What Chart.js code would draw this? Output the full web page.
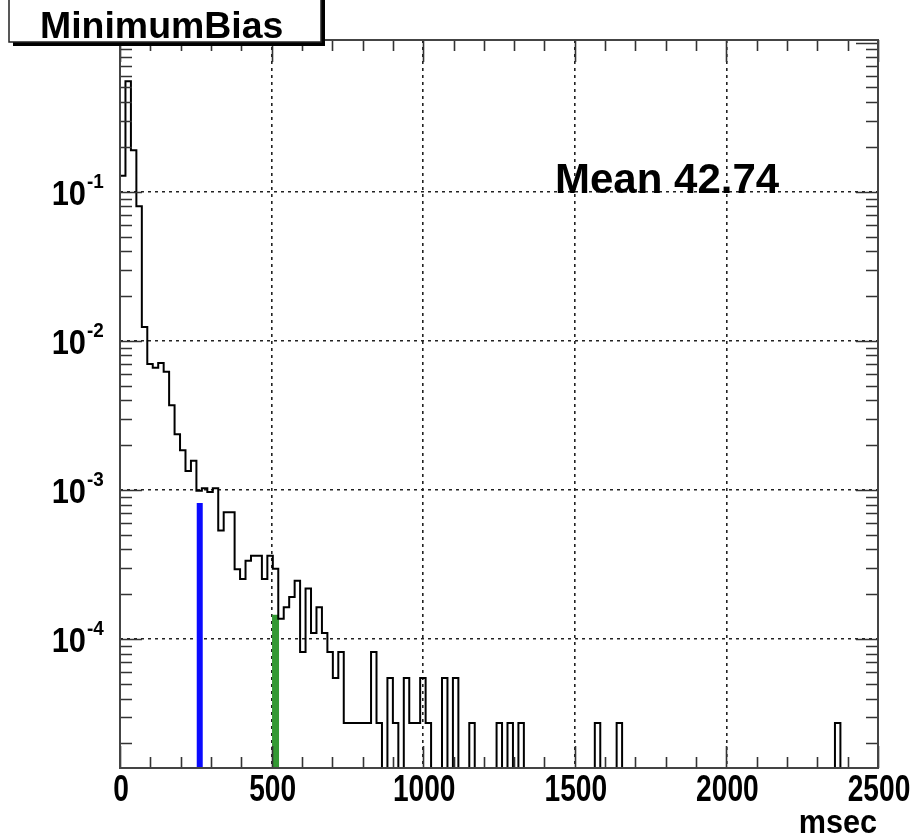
<!DOCTYPE html>
<html>
<head>
<meta charset="utf-8">
<script src="https://cdn.jsdelivr.net/npm/chart.js@4.4.1/dist/chart.umd.min.js"></script>
<style>
    html, body { margin: 0; padding: 0; background: #fff; }
    #wrap { position: relative; width: 917px; height: 837px; }
</style>
</head>
<body>
<div id="wrap"><canvas id="timeChart"></canvas></div>
<script>
// event time histogram, 18 ms bins from 0, normalised to unit area
var binWidth = 18;
var binValues = [
    0.128, 0.55, 0.19, 0.08, 0.0124, 0.0070, 0.0066, 0.0071, 0.0062, 0.0037,
    0.00237, 0.00185, 0.00134, 0.00157, 0.00099, 0.00103, 0.00097, 0.00103, 0.000536, 0.00071,
    0.00071, 0.000295, 0.000253, 0.000336, 0.000363, 0.000363, 0.000253, 0.000363, 0.000297, 0.000137,
    0.000164, 0.000192, 0.000247, 0.000082, 0.000219, 0.00011, 0.000164, 0.00011, 0.000082, 0.000055,
    0.000082, 0.0000274, 0.0000274, 0.0000274, 0.0000274, 0.0000274, 0.000082, 0.0000274, 0, 0.000055,
    0.0000274, 0, 0.000055, 0.0000274, 0.0000274, 0.000055, 0.0000274, 0, 0, 0.000055,
    0, 0.000055, 0, 0, 0.0000274, 0, 0, 0, 0, 0.0000274,
    0, 0.0000274, 0, 0.0000274, 0, 0, 0, 0, 0, 0,
    0, 0, 0, 0, 0, 0, 0, 0.0000274, 0, 0,
    0, 0.0000274, 0, 0, 0, 0, 0, 0, 0, 0,
    0, 0, 0, 0, 0, 0, 0, 0, 0, 0,
    0, 0, 0, 0, 0, 0, 0, 0, 0, 0,
    0, 0, 0, 0, 0, 0, 0, 0, 0, 0,
    0, 0.0000274
];

// the two coloured cut markers (x in msec, height)
var blueCutX = 263;
var blueCutY = 0.00082;
var greenCutX = 513;
var greenCutY = 0.000146;

var xMin = 0, xMax = 2500;
var yMin = 1.37e-5, yMax = 1.04;
var xTickValues = [0, 500, 1000, 1500, 2000, 2500];
var xTickLabels = ['0', '500', '1000', '1500', '2000', '2500'];
var yDecades = [-1, -2, -3, -4];
var titleText = 'MinimumBias';
var statText = 'Mean 42.74';
var xAxisTitle = 'msec';

var emptyFloor = 1e-8; // empty bins drop below the frame, like ROOT

function histPoints() {
    var pts = [{ x: 0, y: emptyFloor }];
    binValues.forEach(function (v, i) {
        pts.push({ x: i * binWidth, y: v > 0 ? v : emptyFloor });
    });
    pts.push({ x: binValues.length * binWidth, y: emptyFloor });
    return pts;
}

function fitText(ctx, text, x, y, size, sx, align) {
    ctx.save();
    ctx.font = 'bold ' + size + 'px "Liberation Sans", Arial, sans-serif';
    var w = ctx.measureText(text).width * sx;
    var left = x;
    if (align === 'center') left = x - w / 2;
    else if (align === 'right') left = x - w;
    ctx.translate(left, y);
    ctx.scale(sx, 1);
    ctx.textAlign = 'left';
    ctx.textBaseline = 'alphabetic';
    ctx.fillStyle = '#000';
    ctx.fillText(text, 0, 0);
    ctx.restore();
}

var rootFrame = {
    id: 'rootFrame',
    beforeDraw: function (chart) {
        var ctx = chart.ctx;
        ctx.save();
        ctx.fillStyle = '#fff';
        ctx.fillRect(0, 0, chart.width, chart.height);
        ctx.restore();
    },
    afterDraw: function (chart) {
        var ctx = chart.ctx;
        var a = chart.chartArea;
        var xs = chart.scales.x, ys = chart.scales.y;
        ctx.save();

        // inner tick marks on all four sides
        ctx.strokeStyle = '#333';
        ctx.lineWidth = 1.6;
        ctx.beginPath();
        for (var v = xMin; v <= xMax; v += 100) {
            var px = Math.round(xs.getPixelForValue(v)) + 0.5;
            var len = v % 500 === 0 ? 22 : 11;
            ctx.moveTo(px, a.bottom); ctx.lineTo(px, a.bottom - len);
            ctx.moveTo(px, a.top); ctx.lineTo(px, a.top + len);
        }
        for (var k = -5; k <= 0; k++) {
            for (var m = 1; m <= 9; m++) {
                var val = m * Math.pow(10, k);
                if (val < yMin || val > yMax) continue;
                var py = Math.round(ys.getPixelForValue(val)) + 0.5;
                var l2 = m === 1 ? 22 : 12;
                ctx.moveTo(a.left, py); ctx.lineTo(a.left + l2, py);
                ctx.moveTo(a.right, py); ctx.lineTo(a.right - l2, py);
            }
        }
        ctx.stroke();

        // frame
        ctx.strokeStyle = '#444';
        ctx.lineWidth = 2;
        ctx.strokeRect(a.left, a.top, a.right - a.left, a.bottom - a.top);

        // x tick labels
        xTickValues.forEach(function (v, i) {
            fitText(ctx, xTickLabels[i], xs.getPixelForValue(v) + 1, 801, 37, 0.76, 'center');
        });
        fitText(ctx, xAxisTitle, 877, 833, 34, 0.9, 'right');

        // y decade labels 10^n
        yDecades.forEach(function (d) {
            var py = ys.getPixelForValue(Math.pow(10, d));
            fitText(ctx, '10', 86, py + 13, 35, 0.88, 'right');
            fitText(ctx, String(d), 87, py - 4, 21, 0.9, 'left');
        });

        // statistics text
        fitText(ctx, statText, 555, 193, 42, 1.0, 'left');

        // title pave with shadow
        ctx.fillStyle = '#000';
        ctx.fillRect(13, 0, 312, 46);
        ctx.fillStyle = '#fff';
        ctx.fillRect(9, -5, 312, 47);
        ctx.strokeStyle = '#222';
        ctx.lineWidth = 1.5;
        ctx.strokeRect(9, -5, 312, 47);
        fitText(ctx, titleText, 40, 38, 36, 1.04, 'left');

        ctx.restore();
    }
};

document.addEventListener('DOMContentLoaded', function () {
    var el = document.getElementById('timeChart');
    new Chart(el.getContext('2d'), {
        type: 'line',
        data: {
            datasets: [
                {
                    label: 'MinimumBias',
                    data: histPoints(),
                    stepped: true,
                    borderColor: '#000',
                    borderWidth: 2,
                    pointRadius: 0,
                    fill: false,
                    clip: 0
                },
                {
                    label: 'cut blue',
                    data: [{ x: blueCutX, y: emptyFloor }, { x: blueCutX, y: blueCutY }],
                    borderColor: '#0a0aff',
                    borderWidth: 6,
                    borderCapStyle: 'butt',
                    pointRadius: 0,
                    clip: 0
                },
                {
                    label: 'cut green',
                    data: [{ x: greenCutX, y: emptyFloor }, { x: greenCutX, y: greenCutY }],
                    borderColor: '#339933',
                    borderWidth: 7,
                    borderCapStyle: 'butt',
                    pointRadius: 0,
                    clip: 0
                }
            ]
        },
        options: {
            responsive: true,
            maintainAspectRatio: false,
            animation: false,
            devicePixelRatio: 1,
            layout: { padding: { left: 120, right: 39, top: 40, bottom: 69 } },
            plugins: { legend: { display: false }, tooltip: { enabled: false } },
            scales: {
                x: {
                    type: 'linear',
                    min: xMin,
                    max: xMax,
                    ticks: { display: false, stepSize: 500 },
                    grid: { color: '#222', lineWidth: 1.6, drawTicks: false },
                    border: { display: false, dash: [3, 4] }
                },
                y: {
                    type: 'logarithmic',
                    min: yMin,
                    max: yMax,
                    afterBuildTicks: function (scale) {
                        scale.ticks = yDecades.map(function (d) { return { value: Math.pow(10, d) }; });
                    },
                    ticks: { display: false },
                    grid: { color: '#222', lineWidth: 1.6, drawTicks: false },
                    border: { display: false, dash: [3, 4] }
                }
            }
        },
        plugins: [rootFrame]
    });
});
</script>
</body>
</html>
